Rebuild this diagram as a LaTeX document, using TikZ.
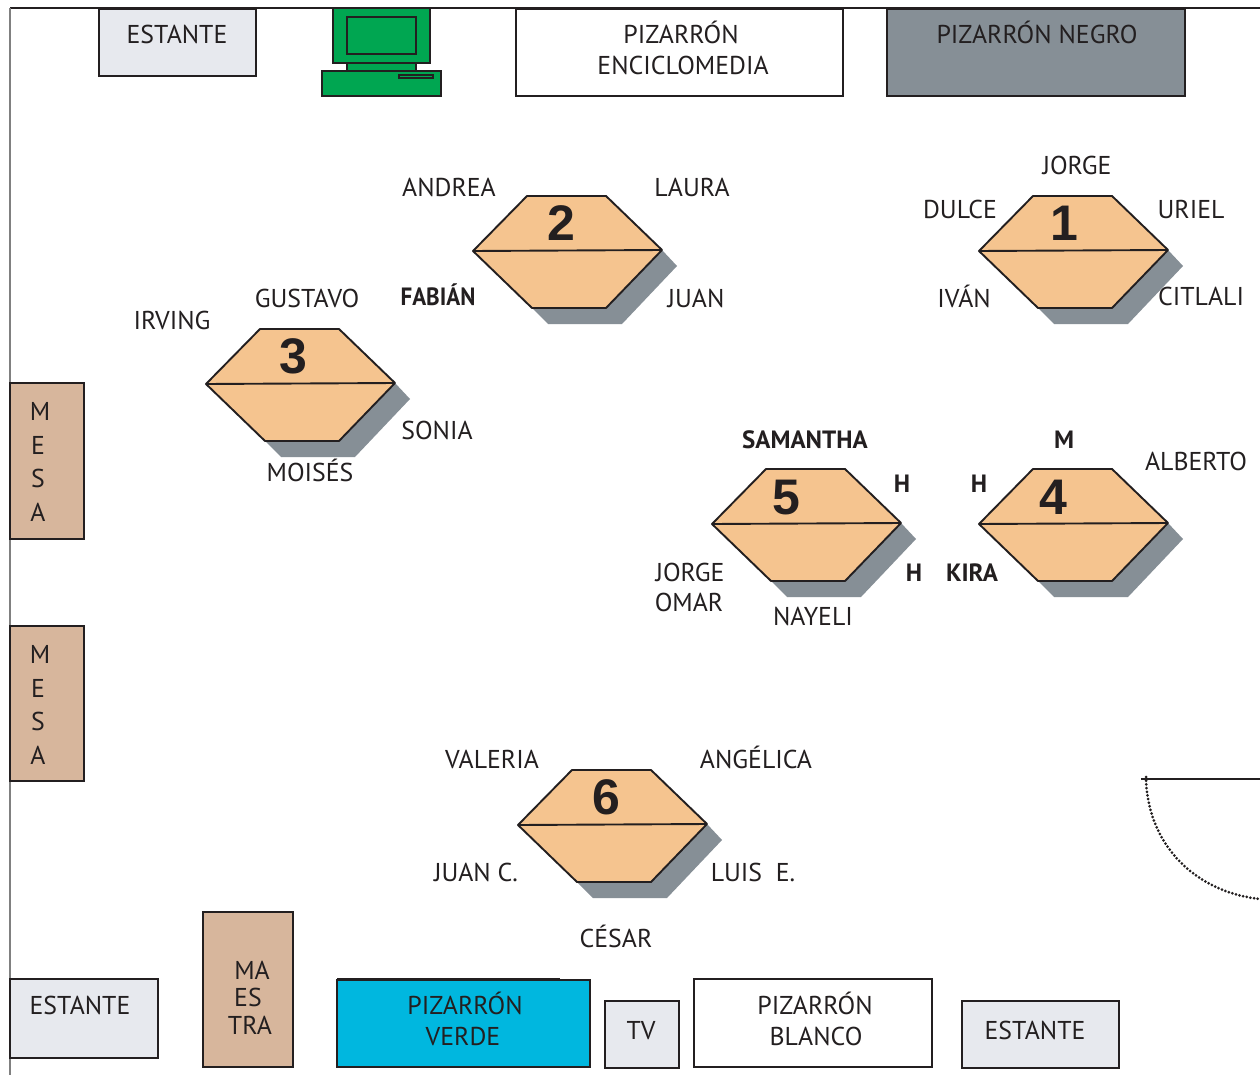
\documentclass[tikz,border=0pt]{standalone}
\usepackage{graphicx}
\usepackage{fontspec}
\setmainfont{PT Sans}
\newfontfamily\numfont{Liberation Sans}
\definecolor{ink}{HTML}{231F20}
\definecolor{shelf}{HTML}{E7E9EE}
\definecolor{slate}{HTML}{868F96}
\definecolor{wood}{HTML}{D7B69C}
\definecolor{tabletop}{HTML}{F5C48F}
\definecolor{pcgreen}{HTML}{00A651}
\definecolor{boardblue}{HTML}{00B7DF}
\tikzset{
  box/.style={draw=ink,line width=1.9pt},
  txt/.style={inner sep=0pt,outer sep=0pt,text=ink,anchor=base,font=\fontsize{25.8}{31}\selectfont,align=center},
  boldtxt/.style={txt,font=\fontsize{25}{30}\bfseries\selectfont},
  numtxt/.style={inner sep=0pt,outer sep=0pt,text=ink,anchor=base,font=\fontsize{50}{50}\numfont\bfseries\selectfont},
  hexline/.style={draw=ink,line width=1.9pt,line join=round},
}
% table: name, dx, dy, number, number x, number y (absolute)
\newcommand{\mesahex}[6]{%
  \begin{scope}[shift={(#2,#3)}]
    \fill[slate] (606,308)--(662,250)--(677,266)--(622,324)--(548,324)--(532,308)--cycle;
    \draw[hexline,fill=tabletop] (473,251)--(527,196)--(606,196)--(662,250)--(606,308)--(532,308)--cycle;
    \draw[hexline] (473,251)--(662,250);
  \end{scope}
  \node[numtxt] (#1) at (#5,#6) {#4};
}
\newcommand{\lab}[4]{\node[txt] (#1) at (#2,#3) {#4};}
\newcommand{\blab}[4]{\node[boldtxt] (#1) at (#2,#3) {#4};}
\begin{document}
\begin{tikzpicture}[x=1pt,y=-1pt]
\useasboundingbox (0,0) rectangle (1260,1075);
\fill[white] (0,0) rectangle (1260,1075);
% room walls
\draw[ink,line width=1.2pt] (10,8)--(1260,8);
\draw[gray,line width=1.1pt] (10,8)--(10,1075);
% door
\draw[ink,line width=2pt] (1141,779)--(1260,779);
\draw[ink,line width=3pt,line cap=round,dash pattern=on 0pt off 3.7pt] (1146,777) -- (1146,779) .. controls (1148,845) and (1195,892) .. (1260,899);
% furniture
\draw[box,fill=shelf] (99,9) rectangle (256,76);
\lab{estanteA}{177}{44}{ESTANTE}
\draw[box,fill=white] (516,9) rectangle (843,96);
\lab{encA}{681}{44}{PIZARRÓN}
\lab{encB}{683}{75}{ENCICLOMEDIA}
\draw[box,fill=slate] (887,9) rectangle (1185,96);
\lab{negro}{1037}{44}{PIZARRÓN NEGRO}
% computer
\begin{scope}[line width=1.9pt,draw=ink,fill=pcgreen]
  \filldraw (347,63) rectangle (416,71);
  \filldraw (333,8) rectangle (430,63);
  \filldraw (347,17) rectangle (416,54);
  \filldraw (322,71) rectangle (441,96);
  \filldraw (399,75) rectangle (433,78);
\end{scope}
% mesas
\draw[box,fill=wood] (10,383) rectangle (84,539);
\lab{mesaAm}{40}{420}{M}\lab{mesaAe}{38}{454}{E}\lab{mesaAs}{38}{487}{S}\lab{mesaAa}{38}{521}{A}
\draw[box,fill=wood] (10,626) rectangle (84,781);
\lab{mesaBm}{40}{663}{M}\lab{mesaBe}{38}{697}{E}\lab{mesaBs}{38}{730}{S}\lab{mesaBa}{38}{764}{A}
% bottom row
\draw[box,fill=shelf] (10,979) rectangle (158,1058);
\lab{estanteB}{80}{1014}{ESTANTE}
\draw[box,fill=wood] (203,912) rectangle (293,1067);
\lab{maA}{252}{979}{MA}\lab{maB}{248}{1006}{ES}\lab{maC}{250}{1034}{TRA}
\draw[box,fill=boardblue] (337,980) rectangle (590,1067);
\draw[ink,line width=1.2pt] (337,979)--(560,979);
\lab{verdeA}{465}{1014}{PIZARRÓN}
\lab{verdeB}{463}{1045.5}{VERDE}
\draw[box,fill=shelf] (605,1001) rectangle (679,1068);
\lab{tv}{641}{1039.5}{TV}
\draw[box,fill=white] (694,979) rectangle (932,1067);
\lab{blancoA}{815}{1014}{PIZARRÓN}
\lab{blancoB}{816}{1045.5}{BLANCO}
\draw[box,fill=shelf] (962,1001) rectangle (1119,1068);
\lab{estanteC}{1035}{1039.5}{ESTANTE}
% tables
\mesahex{uno}{506}{0}{1}{1064}{241}
\mesahex{dos}{0}{0}{2}{561}{241}
\mesahex{tres}{-267}{133}{3}{293}{373}
\mesahex{cuatro}{506}{273}{4}{1053}{514}
\mesahex{cinco}{239}{273}{5}{786}{514}
\mesahex{seis}{45}{574}{6}{606}{814}
% names
\lab{jorge}{1077}{175}{JORGE}
\lab{dulce}{960}{219}{DULCE}
\lab{uriel}{1191}{219}{URIEL}
\lab{ivan}{964}{307}{IVÁN}
\lab{citlali}{1201}{305}{CITLALI}
\lab{andrea}{449}{197}{ANDREA}
\lab{laura}{692}{197}{LAURA}
\blab{fabian}{438}{305}{\scalebox{0.92}[1]{FABIÁN}}
\lab{juan}{696}{307}{JUAN}
\lab{gustavo}{307}{307}{GUSTAVO}
\lab{irving}{172}{329}{IRVING}
\lab{sonia}{437}{439}{SONIA}
\lab{moises}{310}{481}{MOISÉS}
\blab{samantha}{805}{448}{SAMANTHA}
\blab{eme}{1064}{448}{M}
\blab{hA}{902}{492}{H}
\blab{hB}{979}{492}{H}
\lab{alberto}{1196}{470}{ALBERTO}
\blab{hC}{914}{581}{H}
\blab{kira}{972}{581}{KIRA}
\lab{jorgeO}{690}{581}{JORGE}
\lab{omar}{689}{611}{OMAR}
\lab{nayeli}{813}{625}{NAYELI}
\lab{valeria}{492}{768}{VALERIA}
\lab{angelica}{756}{768}{ANGÉLICA}
\lab{juanc}{476}{881}{JUAN C.}
\lab{luis}{753}{881}{LUIS\ \ E.}
\lab{cesar}{616}{947}{CÉSAR}
\end{tikzpicture}
\end{document}
